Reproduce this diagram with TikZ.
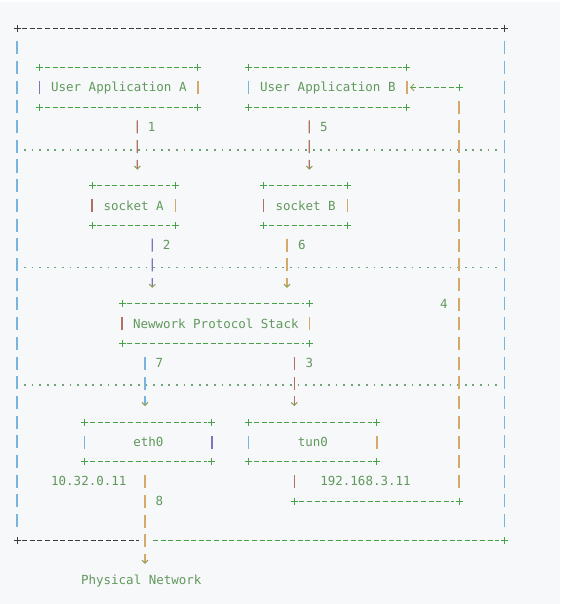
\documentclass[tikz,border=0pt]{standalone}
\usepackage{fontspec}
\setmonofont{DejaVu Sans Mono}
\usetikzlibrary{arrows.meta}

\definecolor{bgcol}{RGB}{246,248,250}
\definecolor{txtcol}{RGB}{98,152,92}
\definecolor{dashgreen}{RGB}{72,160,72}
\definecolor{darkline}{RGB}{60,60,60}
\definecolor{barblue}{RGB}{120,180,222}
\definecolor{barorange}{RGB}{212,168,105}
\definecolor{barbrown}{RGB}{176,112,98}
\definecolor{barpurple}{RGB}{125,115,190}
\definecolor{arrcol}{RGB}{140,160,85}
\definecolor{dotcol}{RGB}{110,165,120}

\tikzset{
  txt/.style={font=\ttfamily\fontsize{12.5}{15}\selectfont, text=txtcol,
    inner sep=0pt, text height=9.1pt, text depth=0pt},
  boxnode/.style={txt, minimum width=#1, minimum height=39.4pt},
  dashline/.style={draw=dashgreen, line width=0.9pt, dash pattern=on 5pt off 2.6pt},
  plusmark/.style={draw=dashgreen, line width=0.9pt},
  sidebar/.style={line width=1.3pt},
  vbar/.style={line width=1.3pt, dash pattern=on 13pt off 6.7pt,
    shorten <=13.2pt, shorten >=13.2pt},
  pipe/.style={vbar, shorten >=16pt,
    -{Straight Barb[length=3pt, width=6pt, color=arrcol, line width=1pt]}},
  sepline/.style={draw=dotcol, line width=1.7pt, dash pattern=on 1.7pt off 5.9pt},
}

% edges of a box drawn as in the ascii sketch
\newcommand\boxedges[3]{%
  \draw[dashline] ([xshift=5.1pt]#1.north west) -- ([xshift=-5.1pt]#1.north east);
  \draw[dashline] ([xshift=5.1pt]#1.south west) -- ([xshift=-5.1pt]#1.south east);
  \foreach \k in {north west,north east,south west,south east}
    \draw[plusmark] (#1.\k) +(-3.5,0) -- +(3.5,0) +(0,-3.5) -- +(0,3.5);
  \draw[sidebar,#2] ([yshift=6.5pt]#1.west) -- ([yshift=-6.5pt]#1.west);
  \draw[sidebar,#3] ([yshift=6.5pt]#1.east) -- ([yshift=-6.5pt]#1.east);
}

\begin{document}
\begin{tikzpicture}[x=1pt, y=-1pt]
  \fill[bgcol] (0,0) rectangle (560,604);
  \fill[white] (0,0) rectangle (560,2);
  \useasboundingbox (0,0) rectangle (560,604);

  % host
  \node[inner sep=0pt, minimum width=486.7pt, minimum height=512.2pt] (host) at (260.65,284.4) {};
  \draw[dashline, draw=darkline] ([xshift=5.1pt]host.north west) -- ([xshift=-5.1pt]host.north east);
  \draw[dashline, draw=darkline] ([xshift=5.1pt]host.south west) -- ([xshift=122pt]host.south west);
  \draw[dashline] ([xshift=-351pt]host.south east) -- ([xshift=-5.1pt]host.south east);
  \foreach \k in {north west,north east,south west}
    \draw[plusmark, draw=darkline] (host.\k) +(-3.5,0) -- +(3.5,0) +(0,-3.5) -- +(0,3.5);
  \draw[plusmark] (host.south east) +(-3.5,0) -- +(3.5,0) +(0,-3.5) -- +(0,3.5);
  \draw[vbar, barblue] (host.north west) -- (host.south west);
  \draw[vbar, barblue] (host.north east) -- (host.south east);

  % layer lines
  \draw[sepline] (24,150) -- (497,150);
  \draw[sepline] (24,267.5) -- (497,267.5);
  \draw[sepline] (24,385) -- (497,385);

  % boxes
  \node[boxnode=157.7pt] (appA) at (118.85,87.4) {User Application A};
  \node[boxnode=157.7pt] (appB) at (327.85,87.4) {User Application B};
  \node[boxnode=82.7pt] (sockA) at (133.65,205.6) {socket A};
  \node[boxnode=83.3pt] (sockB) at (305.65,205.6) {socket B};
  \node[boxnode=187pt] (stack) at (215.8,323.8) {Newwork Protocol Stack};
  \node[boxnode=126.7pt] (eth) at (148.35,442) {eth0};
  \node[boxnode=127.7pt] (tun) at (312.85,442) {tun0};
  \node[txt] (phys) at (141.3,579.9) {Physical Network};
  \node[txt] (ipeth) at (88.8,481.4) {10.32.0.11};
  \node[txt] (iptun) at (365.5,481.4) {192.168.3.11};

  \boxedges{appA}{barpurple}{barorange}
  \boxedges{appB}{barblue}{barorange}
  \boxedges{sockA}{barbrown}{barorange}
  \boxedges{sockB}{barbrown}{barorange}
  \boxedges{stack}{barbrown}{barorange}
  \boxedges{eth}{barblue}{barpurple}
  \boxedges{tun}{barblue}{barorange}

  % flows
  \draw[pipe, barbrown] ([xshift=18.45pt]appA.south) -- ([xshift=3.65pt]sockA.north);
  \draw[pipe, barbrown] ([xshift=-18.55pt]appB.south) -- ([xshift=3.65pt]sockB.north);
  \draw[pipe, barpurple] ([xshift=18.65pt]sockA.south) -- ([xshift=-63.5pt]stack.north);
  \draw[pipe, barorange] ([xshift=-18.65pt]sockB.south) -- ([xshift=71.2pt]stack.north);
  \draw[pipe, barblue] ([xshift=-70.8pt]stack.south) -- ([xshift=-3.35pt]eth.north);
  \draw[pipe, barbrown] ([xshift=78.5pt]stack.south) -- ([xshift=-18.55pt]tun.north);
  \draw[pipe, barorange, shorten >=11.4pt] ([xshift=-3.35pt]eth.south) -- ([xshift=3.7pt]phys.north);

  % tun0 back to app B
  \coordinate (lpA) at (294.3,501.1);
  \coordinate (lpB) at (459,501.1);
  \coordinate (lpC) at (459,87.4);
  \draw[vbar, barbrown] ([xshift=-18.55pt]tun.south) -- (lpA);
  \draw[dashline] ([xshift=5.1pt]lpA) -- ([xshift=-5.1pt]lpB);
  \draw[vbar, barorange] (lpB) -- (lpC);
  \draw[dashline, shorten <=5.1pt, shorten >=3pt,
    -{Straight Barb[length=3.5pt, width=7pt, color=arrcol, line width=1pt]}] (lpC) -- (appB.east);
  \foreach \c in {lpA,lpB,lpC}
    \draw[plusmark] (\c) +(-3.5,0) -- +(3.5,0) +(0,-3.5) -- +(0,3.5);

  % step numbers
  \node[txt] (n1) at (151.7,126.8) {1};
  \node[txt] (n5) at (324,126.8) {5};
  \node[txt] (n2) at (166.7,245) {2};
  \node[txt] (n6) at (302,245) {6};
  \node[txt] (n4) at (444,304.1) {4};
  \node[txt] (n7) at (159.3,363.2) {7};
  \node[txt] (n3) at (309.3,363.2) {3};
  \node[txt] (n8) at (159.3,501.1) {8};
\end{tikzpicture}
\end{document}
